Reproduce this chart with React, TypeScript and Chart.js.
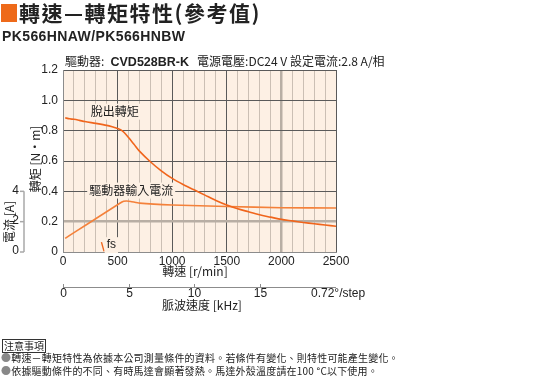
import React, { useEffect, useRef } from "react";
import { Chart, registerables } from "chart.js";

Chart.register(...registerables);

// ---- data ----
const torqueRpm = [20, 60, 100, 150, 200, 300, 400, 450, 500, 530, 560, 600, 650, 700, 800, 900, 1000, 1100, 1200, 1300, 1400, 1500, 1600, 1700, 1800, 1900, 2000, 2100, 2200, 2300, 2400, 2500];
const torqueNm = [0.885, 0.878, 0.875, 0.868, 0.86, 0.848, 0.835, 0.826, 0.815, 0.805, 0.788, 0.755, 0.71, 0.665, 0.595, 0.535, 0.485, 0.445, 0.41, 0.375, 0.34, 0.31, 0.285, 0.265, 0.245, 0.23, 0.215, 0.205, 0.195, 0.186, 0.178, 0.17];
const currentRpm = [20, 540, 580, 620, 700, 1000, 1500, 2000, 2500];
const currentA = [0.9, 3.3, 3.36, 3.33, 3.22, 3.1, 3.0, 2.92, 2.9];
const fsRpm = [352, 376];
const fsNm = [0.065, 0.004];
const khzTicks = [0, 5, 10, 15];
const rpmPerKhz = 120; // 0.72°/step
const currentTicks = [0, 2, 4];

const CJK = '"Noto Sans CJK TC", "Noto Sans CJK JP", sans-serif';
const LAT = '"Liberation Sans", Arial, sans-serif';
const BG = "#fdf0e4";

const pts = (xs: number[], ys: number[]) => xs.map((x, i) => ({ x, y: ys[i] }));

const overlay = {
  id: "overlay",
  beforeDraw(chart: any) {
    const { ctx, chartArea: a } = chart;
    ctx.save();
    ctx.fillStyle = BG;
    ctx.fillRect(a.left, a.top, a.right - a.left, a.bottom - a.top);
    ctx.restore();
  },
  afterDatasetsDraw(chart: any) {
    const { ctx, chartArea: a } = chart;
    const x = chart.scales.x;
    const y = chart.scales.y;
    const y2 = chart.scales.y2;
    ctx.save();
    const label = (t: string, px: number, py: number, font: string) => {
      ctx.font = font;
      const w = ctx.measureText(t).width;
      ctx.fillStyle = BG;
      ctx.fillRect(px - 2, py - 8, w + 4, 16);
      ctx.fillStyle = "#222";
      ctx.textAlign = "left";
      ctx.textBaseline = "middle";
      ctx.fillText(t, px, py);
    };
    label("脫出轉矩", x.getPixelForValue(255), y.getPixelForValue(0.925), `12px ${CJK}`);
    label("驅動器輸入電流", x.getPixelForValue(240), y.getPixelForValue(0.405), `12px ${CJK}`);
    label("fs", x.getPixelForValue(400), y.getPixelForValue(0.045), `12px ${LAT}`);

    // current axis
    const ax = 24;
    ctx.strokeStyle = "#a8a8a8";
    ctx.lineWidth = 1.5;
    ctx.beginPath();
    ctx.moveTo(ax, y2.getPixelForValue(4));
    ctx.lineTo(ax, y2.getPixelForValue(0));
    ctx.stroke();
    ctx.fillStyle = "#222";
    ctx.font = `12px ${LAT}`;
    ctx.textAlign = "right";
    ctx.textBaseline = "middle";
    currentTicks.forEach((v) => {
      const py = y2.getPixelForValue(v);
      ctx.beginPath();
      ctx.moveTo(ax - 4, py);
      ctx.lineTo(ax, py);
      ctx.stroke();
      ctx.fillText(String(v), ax - 5, py - 1);
    });

    const vtext = (t: string, px: number, py: number) => {
      ctx.save();
      ctx.translate(px, py);
      ctx.rotate(-Math.PI / 2);
      ctx.font = `12px ${CJK}`;
      ctx.textAlign = "center";
      ctx.textBaseline = "middle";
      ctx.fillStyle = "#222";
      ctx.fillText(t, 0, 0);
      ctx.restore();
    };
    vtext("轉矩 [N·m]", 35, 159);
    vtext("電流 [A]", 9, 222);

    ctx.font = `12px ${CJK}`;
    ctx.textAlign = "center";
    ctx.textBaseline = "middle";
    ctx.fillStyle = "#222";
    ctx.fillText("轉速 [r/min]", 195, 271);

    // kHz axis
    const ky = 287;
    ctx.strokeStyle = "#8c8c8c";
    ctx.lineWidth = 1;
    ctx.beginPath();
    ctx.moveTo(a.left, ky + 0.5);
    ctx.lineTo(a.right, ky + 0.5);
    ctx.stroke();
    ctx.font = `12px ${LAT}`;
    khzTicks.forEach((k) => {
      const px = Math.round(x.getPixelForValue(k * rpmPerKhz)) + 0.5;
      ctx.beginPath();
      ctx.moveTo(px, ky - 3);
      ctx.lineTo(px, ky);
      ctx.stroke();
      ctx.textAlign = "center";
      ctx.fillText(String(k), px, ky + 7);
    });
    ctx.textAlign = "left";
    ctx.fillText("0.72°/step", 311, ky + 7);
    ctx.font = `12px ${CJK}`;
    ctx.textAlign = "center";
    ctx.fillText("脈波速度 [kHz]", 202, 305);
    ctx.restore();
  },
};

export default function App() {
  const ref = useRef<HTMLCanvasElement>(null);
  useEffect(() => {
    const chart = new Chart(ref.current!, {
      type: "line",
      data: {
        datasets: [
          { data: pts(torqueRpm, torqueNm), borderColor: "#f0651c", borderWidth: 1.6, pointRadius: 0, tension: 0.3, yAxisID: "y" },
          { data: pts(currentRpm, currentA), borderColor: "#f4813a", borderWidth: 1.6, pointRadius: 0, tension: 0.15, yAxisID: "y2" },
          { data: pts(fsRpm, fsNm), borderColor: "#f0651c", borderWidth: 1.4, pointRadius: 0, tension: 0, yAxisID: "y" },
        ],
      },
      options: {
        animation: false,
        responsive: false,
        devicePixelRatio: 1,
        layout: { padding: { left: 0, top: 70, right: 200, bottom: 0 } },
        plugins: { legend: { display: false }, tooltip: { enabled: false } },
        scales: {
          x: {
            type: "linear",
            min: 0,
            max: 2500,
            afterFit: (s: any) => { s.height = 127; },
            ticks: {
              stepSize: 100,
              autoSkip: false,
              maxRotation: 0,
              padding: 2,
              color: "#222",
              font: { size: 12, family: LAT },
              callback: (v: any) => (v % 500 === 0 ? String(v) : ""),
            },
            grid: {
              drawTicks: false,
              color: (c: any) => {
                const v = c.tick?.value;
                if (v === 2000) return "#b8aea4";
                if (v % 500 === 0) return "#5a5a5a";
                return "#cbbfb4";
              },
              lineWidth: (c: any) => (c.tick?.value === 2000 ? 2.5 : 1),
            },
            border: { color: "#8c8c8c", width: 1 },
          },
          y: {
            min: 0,
            max: 1.2,
            afterFit: (s: any) => { s.width = 63; },
            ticks: {
              stepSize: 0.2,
              padding: 5,
              color: "#222",
              font: { size: 12, family: LAT },
              callback: (v: any) => (Math.abs(v) < 1e-6 ? "0" : Number(v).toFixed(1)),
            },
            grid: {
              drawTicks: false,
              color: (c: any) => (Math.round((c.tick?.value ?? 0) * 10) === 2 ? "#b8aea4" : "#5a5a5a"),
              lineWidth: (c: any) => (Math.round((c.tick?.value ?? 0) * 10) === 2 ? 2.5 : 1),
            },
            border: { color: "#8c8c8c", width: 1 },
          },
          y2: { display: false, min: 0, max: 12 },
        },
      },
      plugins: [overlay],
    });
    return () => chart.destroy();
  }, []);

  const abs = (l: number, t: number, extra: React.CSSProperties = {}): React.CSSProperties => ({
    position: "absolute", left: l, top: t, whiteSpace: "nowrap", color: "#222", ...extra,
  });

  return (
    <div style={{ position: "fixed", left: 0, top: 0, width: 536, height: 379, background: "#fff", overflow: "hidden" }}>
      <canvas ref={ref} width={536} height={379} style={{ position: "absolute", left: 0, top: 0, width: 536, height: 379 }} />
      <div style={abs(1, 4, { width: 16, height: 18, background: "#ee6a1a" })} />
      <div style={abs(19, -1, { fontFamily: CJK, fontWeight: 700, fontSize: 21, lineHeight: "27px", letterSpacing: 1.5 })}>轉速—轉矩特性(參考值)</div>
      <div style={abs(2, 27, { fontFamily: LAT, fontWeight: 700, fontSize: 14, lineHeight: "18px", letterSpacing: 0.4 })}>PK566HNAW/PK566HNBW</div>
      <div style={abs(65, 53, { fontFamily: CJK, fontSize: 12, lineHeight: "16px" })}>
        驅動器: <b style={{ fontFamily: LAT, fontSize: 12.5 }}>&nbsp;CVD528BR-K</b>&nbsp;&nbsp;&nbsp;電源電壓:DC24 V 設定電流:2.8 A/相
      </div>
      <div style={abs(2, 339, { fontFamily: CJK, fontSize: 10, lineHeight: "12px", border: "1px solid #333", padding: "0 1px" })}>注意事項</div>
      <div style={abs(1, 351, { fontFamily: CJK, fontSize: 10, lineHeight: "13px", letterSpacing: 0.2 })}>
        <span style={{ color: "#888" }}>●</span>轉速－轉矩特性為依據本公司測量條件的資料。若條件有變化、則特性可能產生變化。
      </div>
      <div style={abs(1, 364, { fontFamily: CJK, fontSize: 10, lineHeight: "13px", letterSpacing: 0.2 })}>
        <span style={{ color: "#888" }}>●</span>依據驅動條件的不同、有時馬達會顯著發熱。馬達外殼溫度請在100 °C以下使用。
      </div>
    </div>
  );
}
